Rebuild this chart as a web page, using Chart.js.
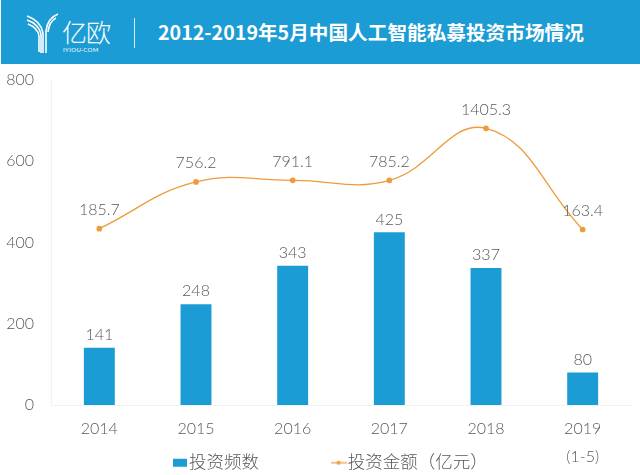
<!DOCTYPE html>
<html><head><meta charset="utf-8">
<script src="https://cdn.jsdelivr.net/npm/chart.js@4/dist/chart.umd.min.js"></script>
<style>
html,body{margin:0;padding:0;background:#fff;width:640px;height:475px;overflow:hidden}
#wrap{position:relative;width:640px;height:475px}
#c{position:absolute;left:0;top:0}
#banner{position:absolute;left:1px;top:0;width:639px;height:64px;background:#1b9cd4;color:#fff;font-family:"Noto Sans CJK SC",sans-serif}
#title{position:absolute;left:157px;top:17px;font-size:19.65px;font-weight:700;line-height:30px;white-space:nowrap;color:#fff}
#brand{position:absolute;left:61px;top:16px;font-size:25px;font-weight:300;line-height:30px;letter-spacing:-1px}
#dom{position:absolute;left:62px;top:46px;font-size:6px;line-height:8px;font-family:Lato,sans-serif;letter-spacing:.4px}
#div{position:absolute;left:133px;top:18px;width:1px;height:30px;background:#d8eef8}
svg{position:absolute;left:25px;top:13px}
</style></head><body>
<div id="wrap">
<canvas id="c" width="640" height="475"></canvas>
<div id="banner">
<svg width="36" height="42" viewBox="0 0 36 42" fill="none" stroke="#fff" stroke-width="1.6">
<path d="M1 3C7 5 15 10 17 20V40M1 7C7 9 13 13 15 21V40M2 11C7 13 12 16 13 23V39"/>
<path d="M32 1C27 3 21 8 20 18V40M30 5C26 7 23 11 22 19"/>
</svg>
<div id="brand">亿欧</div><div id="dom">IYIOU·COM</div><div id="div"></div>
<div id="title">2012-2019年5月中国人工智能私募投资市场情况</div>
</div>
</div>
<script>
const categories=["2014","2015","2016","2017","2018",["2019","(1-5)"]];
const frequency=[141,248,343,425,337,80];
const amountLabels=["185.7","756.2","791.1","785.2","1405.3","163.4"];
const amountPlotted=[434,549,553,553,681,432];
const yTicks=[0,200,400,600,800];
const barName="投资频数";
const lineName="投资金额（亿元）";
const FONT='Lato, "Noto Sans CJK SC", sans-serif';
const INK="#595959",BLUE="#1b9cd4",ORANGE="#ee9b3c";

function swatch(kind){
  const s=document.createElement("canvas");
  s.width=kind==="bar"?14:16; s.height=10;
  const g=s.getContext("2d");
  if(kind==="bar"){g.fillStyle=BLUE;g.fillRect(0,1,14,8);}
  else{g.strokeStyle=ORANGE;g.lineWidth=1.2;g.beginPath();g.moveTo(0,5);g.lineTo(16,5);g.stroke();
       g.fillStyle=ORANGE;g.beginPath();g.arc(8,5,2,0,7);g.fill();}
  return s;
}
const valueLabels={id:"valueLabels",afterDatasetsDraw(ch){
  const g=ch.ctx;g.save();g.font="300 16px "+FONT;g.fillStyle=INK;g.textAlign="center";g.textBaseline="middle";
  ch.getDatasetMeta(0).data.forEach((el,i)=>g.fillText(String(frequency[i]),el.x,el.y-13));
  ch.getDatasetMeta(1).data.forEach((el,i)=>g.fillText(amountLabels[i],el.x,el.y-19));
  g.restore();
}};
// The reference's legend overlaps the tick-label band, so it takes no layout room.
const legendPlacement={id:"legendPlacement",
  beforeLayout(ch){
    const l=ch.legend;
    if(!l._wrapped){const f=l.fit;l.fit=function(){f.call(this);this.height=1;};l._wrapped=true;}
  },
  afterLayout(ch){
    const l=ch.legend;
    l.top=464-ch.options.plugins.legend.labels.padding-10;
    l.bottom=l.top+130;
    l.left+=18;l.right+=18;
  }};
new Chart(document.getElementById("c"),{
  data:{labels:categories,datasets:[
    {type:"bar",label:barName,data:frequency,backgroundColor:BLUE,barPercentage:.64,categoryPercentage:.5,order:2},
    {type:"line",label:lineName,data:amountPlotted,borderColor:ORANGE,backgroundColor:ORANGE,borderWidth:1.3,pointRadius:2.2,pointHoverRadius:2.2,tension:.42,order:1}
  ]},
  options:{responsive:false,animation:false,devicePixelRatio:1,
    layout:{padding:{top:80,left:0,right:9,bottom:0}},
    plugins:{tooltip:{enabled:false},
      legend:{position:"bottom",labels:{usePointStyle:true,pointStyleWidth:1,color:INK,font:{family:FONT,size:17.5,weight:"300"},padding:79,boxHeight:10,
        generateLabels:()=>[
          {text:barName,pointStyle:swatch("bar"),fontColor:INK,datasetIndex:0},
          {text:lineName,pointStyle:swatch("line"),fontColor:INK,datasetIndex:1}]}}},
    scales:{
      x:{grid:{display:false},border:{color:"#f2f2f2"},afterFit:s=>{s.height=69;},
         ticks:{color:INK,font:{family:FONT,size:16,weight:"300",lineHeight:1.75},padding:2,maxRotation:0}},
      y:{min:0,max:800,afterFit:s=>{s.width=51;},
         afterBuildTicks:a=>{a.ticks=yTicks.map(v=>({value:v}));},
         grid:{display:false},border:{color:"#f2f2f2"},
         ticks:{color:INK,font:{family:FONT,size:16,weight:"300"},padding:9}}
    }},
  plugins:[legendPlacement,valueLabels]
});
</script>
</body></html>
